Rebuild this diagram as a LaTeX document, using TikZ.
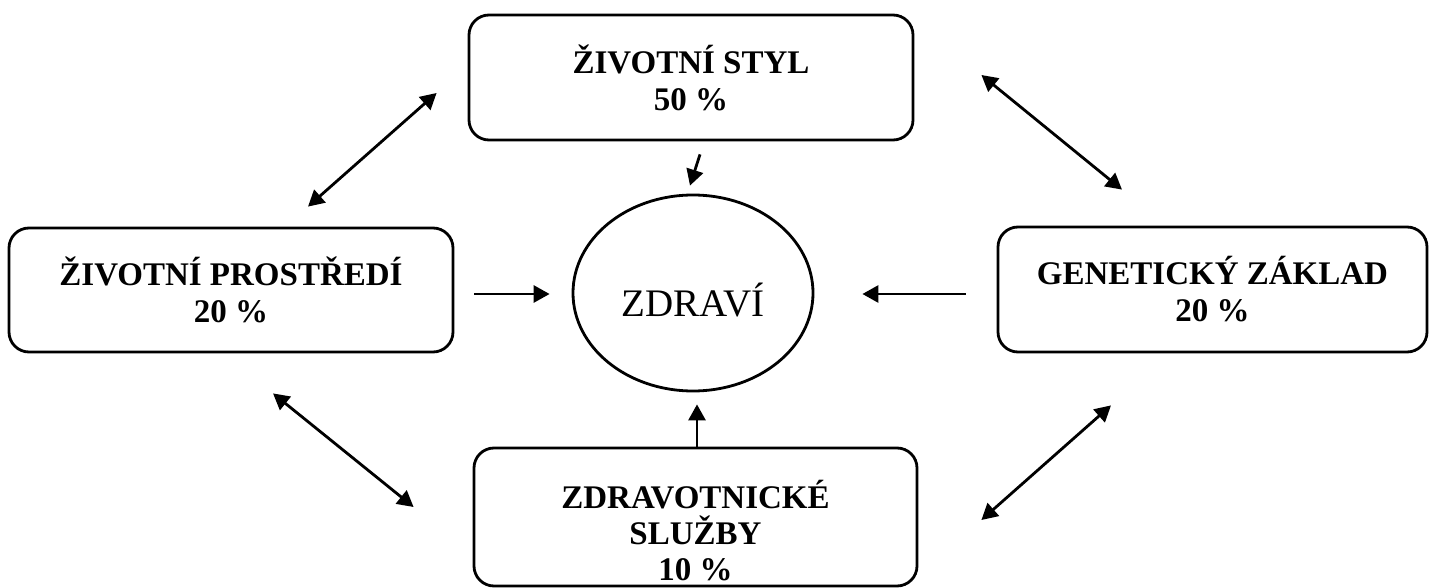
\documentclass[tikz,border=0pt]{standalone}
\usepackage{fontspec}
\setmainfont{Liberation Serif}
\usetikzlibrary{arrows.meta,shapes.geometric}
\begin{document}
\begin{tikzpicture}[x=1pt,y=-1pt,
  box/.style={draw,line width=2.8pt,rounded corners=20pt,inner sep=0pt,align=center,
    font=\fontsize{33}{37}\selectfont\bfseries},
  lbl/.style={inner sep=0pt,align=center,font=\fontsize{33}{36}\selectfont\bfseries},
  tip/.style={},
  arr/.style={line width=2.8pt,-{Triangle[length=16pt,width=17pt]}},
  darr/.style={line width=2.8pt,{Triangle[length=16pt,width=17pt]}-{Triangle[length=16pt,width=17pt]}}]
\useasboundingbox (0,0) rectangle (1430,588);
\node[box,minimum width=444pt,minimum height=125pt] (T) at (691,77.5) {ŽIVOTNÍ STYL\\50 \%};
\node[box,minimum width=444pt,minimum height=124pt] (L) at (231,290) {ŽIVOTNÍ PROSTŘEDÍ\\20 \%};
\node[box,minimum width=429pt,minimum height=125pt] (R) at (1212.5,289.5) {GENETICKÝ ZÁKLAD\\20 \%};
\node[box,minimum width=443pt,minimum height=138pt] (B) at (695.5,517) {};
\node[lbl] (BT) at (695.5,531) {ZDRAVOTNICKÉ\\SLUŽBY\\10 \%};
\node[draw,ellipse,line width=2.8pt,inner sep=0pt,minimum width=240pt,minimum height=196pt] (Z) at (693,293) {};
\node[inner sep=0pt,anchor=base,font=\fontsize{39}{40}\selectfont] (ZT) at (693,316) {ZDRAVÍ};
% arrows into ZDRAVI
\draw[arr] ([shift={(9,13)}]T.south) -- ([shift={(-3,-8)}]Z.north);
\draw[arr] ([shift={(20,4)}]L.east) -- ([shift={(-22,1)}]Z.west);
\draw[arr] ([shift={(-31,4.5)}]R.west) -- ([shift={(48,1)}]Z.east);
\draw[arr] ([shift={(1.5,0)}]B.north) -- ([shift={(4,12)}]Z.south);
% double arrows between boxes
\draw[darr] ([shift={(77,-20)}]L.north) -- ([shift={(-31,15.5)}]T.west);
\draw[darr] ([shift={(67,-2.5)}]T.east) -- ([shift={(-90.5,-36)}]R.north);
\draw[darr] ([shift={(42,40)}]L.south) -- ([shift={(-59,-10)}]B.west);
\draw[darr] ([shift={(63,3)}]B.east) -- ([shift={(-101.5,52)}]R.south);
\end{tikzpicture}
\end{document}
